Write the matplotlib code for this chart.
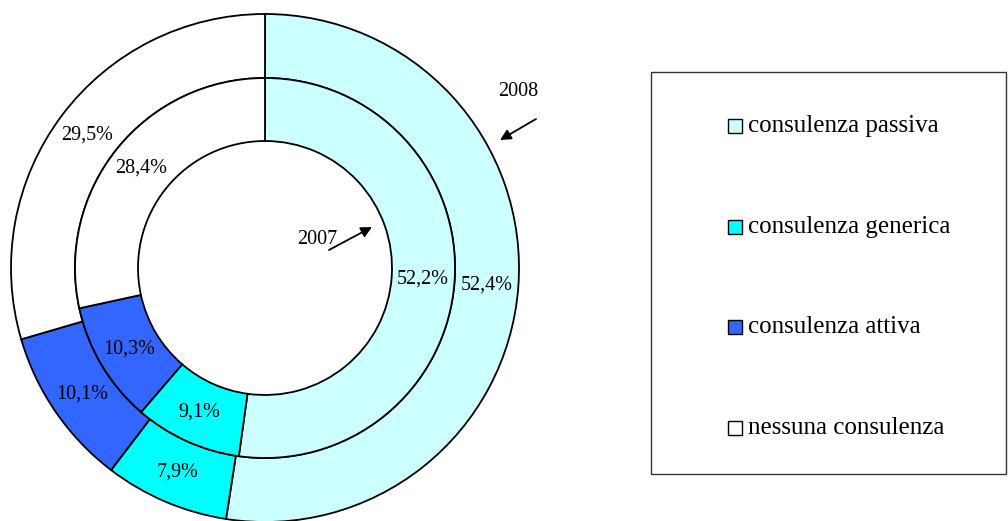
import numpy as np
import matplotlib
matplotlib.use("Agg")
import matplotlib.pyplot as plt
from matplotlib.patches import Rectangle

categories = ["consulenza passiva", "consulenza generica", "consulenza attiva", "nessuna consulenza"]
values_2008 = [52.4, 7.9, 10.1, 29.5]
values_2007 = [52.2, 9.1, 10.3, 28.4]
colors = ["#CCFFFF", "#00FFFF", "#3366FF", "#FFFFFF"]

plt.rcParams['font.family'] = ['Liberation Serif', 'DejaVu Serif']

W, H = 1008, 521
fig = plt.figure(figsize=(W / 100, H / 100), dpi=100)
ax = fig.add_axes([0, 0, 1, 1])

def Y(y):
    # convert from top-down pixel position to axis coordinate
    return H - y

cx, cy = 265, Y(268)
R_out, R_mid, R_in = 254, 190, 127

wp = dict(edgecolor='black', linewidth=1.3)
w_out, _ = ax.pie(values_2008, colors=colors, startangle=90, counterclock=False,
                  radius=R_out, center=(cx, cy), wedgeprops=dict(width=R_out - R_mid, **wp),
                  frame=True)
w_in, _ = ax.pie(values_2007, colors=colors, startangle=90, counterclock=False,
                 radius=R_mid, center=(cx, cy), wedgeprops=dict(width=R_mid - R_in, **wp),
                 frame=True)
ax.set_xlim(0, W)
ax.set_ylim(0, H)
ax.set_aspect('equal')
ax.axis('off')

def fmt(v):
    return f"{v:.1f}%".replace('.', ',')

for wedges, vals in ((w_out, values_2008), (w_in, values_2007)):
    for w, v in zip(wedges, vals):
        th = np.deg2rad((w.theta1 + w.theta2) / 2)
        r = w.r - w.width / 2
        x = w.center[0] + r * np.cos(th)
        y = w.center[1] + r * np.sin(th)
        ax.text(x, y, fmt(v), ha='center', va='center', fontsize=14.5)

arrow = dict(arrowstyle='-|>', color='black', lw=1.3, mutation_scale=16, shrinkA=0, shrinkB=0)
ax.text(518, Y(92), "2008", ha='center', va='center', fontsize=14.5)
ax.annotate("", xy=(500, Y(140)), xytext=(536, Y(119)), arrowprops=arrow)
ax.text(317, Y(240), "2007", ha='center', va='center', fontsize=14.5)
ax.annotate("", xy=(372, Y(227)), xytext=(329, Y(250)), arrowprops=arrow)

# legend box
ax.add_patch(Rectangle((651, Y(474)), 355, 402, fill=False, edgecolor='#333333', linewidth=1.0,
                       clip_on=False))
for i, (cat, col) in enumerate(zip(categories, colors)):
    yc = 126 + i * 100.5
    ax.add_patch(Rectangle((728, Y(yc) - 7), 14, 14, facecolor=col, edgecolor='black',
                           linewidth=1.0))
    ax.text(748, Y(yc), cat, ha='left', va='center', fontsize=18)

fig.savefig("out.png", dpi=100)
